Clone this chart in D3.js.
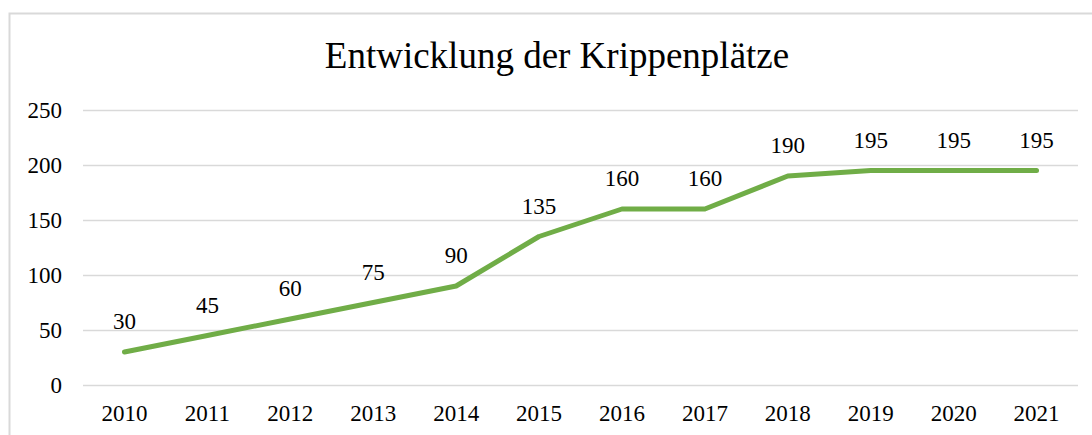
<!DOCTYPE html>
<html>
<head>
<meta charset="utf-8">
<script src="https://cdn.jsdelivr.net/npm/d3@7/dist/d3.min.js"></script>
<style>
  body { margin: 0; background: white; }
  svg { display: block; }
</style>
</head>
<body>
<div id="chart"></div>
<script>
const years = ['2010', '2011', '2012', '2013', '2014', '2015', '2016', '2017', '2018', '2019', '2020', '2021']
const places = [30, 45, 60, 75, 90, 135, 160, 160, 190, 195, 195, 195]
const yTicks = [0, 50, 100, 150, 200, 250]
const title = 'Entwicklung der Krippenplätze'

const width = 1092
const height = 435
const font = '"Liberation Serif", "Times New Roman", serif'
const lineColor = '#70ad47'
const gridColor = '#d9d9d9'

var svg = d3.select('#chart').append('svg')
  .attr('width', width)
  .attr('height', height)

// outer chart frame
svg.append('rect')
  .attr('x', 9.5)
  .attr('y', 13.5)
  .attr('width', 1100)
  .attr('height', 440)
  .style('fill', 'white')
  .style('stroke', gridColor)
  .style('stroke-width', 2)

svg.append('text')
  .attr('x', 557)
  .attr('y', 68)
  .attr('text-anchor', 'middle')
  .style('font-family', font)
  .style('font-size', '37px')
  .style('fill', '#000')
  .text(title)

var xscale = d3.scaleBand()
  .domain(years)
  .range([83, 1078])

var yscale = d3.scaleLinear()
  .domain([0, 250])
  .range([385, 110])

// gridlines
svg.append('g')
  .selectAll('line')
  .data(yTicks)
  .enter()
  .append('line')
  .attr('x1', xscale.range()[0])
  .attr('x2', xscale.range()[1])
  .attr('y1', d => Math.round(yscale(d)) + 0.5)
  .attr('y2', d => Math.round(yscale(d)) + 0.5)
  .style('stroke', gridColor)
  .style('stroke-width', 1.5)

// y labels
var yAxis = svg.append('g')
  .attr('transform', 'translate(62, 0)')
  .call(d3.axisLeft(yscale).tickValues(yTicks).tickSize(0).tickPadding(0))
yAxis.select('.domain').remove()
yAxis.selectAll('text')
  .style('font-family', font)
  .style('font-size', '23px')
  .style('fill', '#000')

// x labels
var xAxis = svg.append('g')
  .attr('transform', 'translate(0, 385)')
  .call(d3.axisBottom(xscale).tickSize(0).tickPadding(20))
xAxis.select('.domain').remove()
xAxis.selectAll('text')
  .style('font-family', font)
  .style('font-size', '23px')
  .style('fill', '#000')

var cx = d => xscale(d) + xscale.bandwidth() / 2

var line = d3.line()
  .x((d, i) => cx(years[i]))
  .y(d => yscale(d))

svg.append('path')
  .datum(places)
  .attr('d', line)
  .style('fill', 'none')
  .style('stroke', lineColor)
  .style('stroke-width', 5)
  .style('stroke-linecap', 'round')
  .style('stroke-linejoin', 'round')

// value labels above the points
svg.append('g')
  .selectAll('text')
  .data(places)
  .enter()
  .append('text')
  .attr('x', (d, i) => cx(years[i]))
  .attr('y', d => yscale(d) - 23)
  .attr('text-anchor', 'middle')
  .style('font-family', font)
  .style('font-size', '23px')
  .style('fill', '#000')
  .text(d => d)
</script>
</body>
</html>
